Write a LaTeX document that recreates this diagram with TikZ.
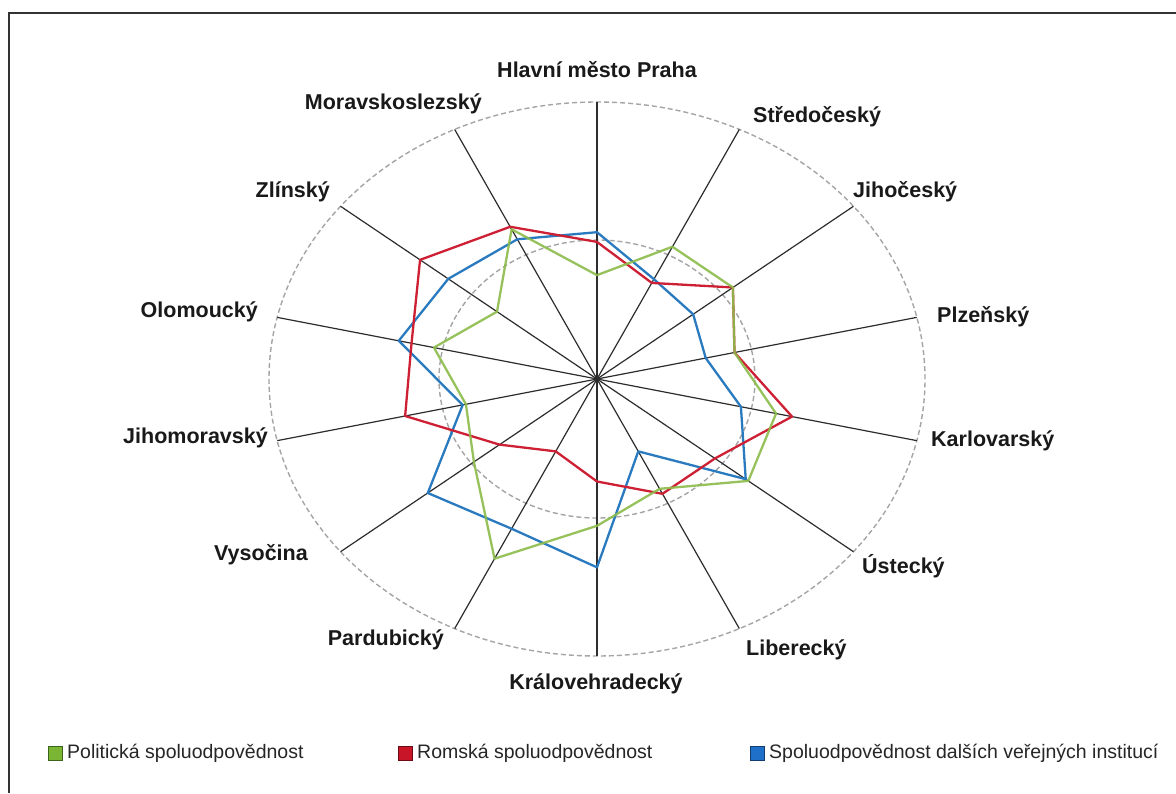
\documentclass[tikz,border=0pt]{standalone}
\usepackage{fontspec}
\setmainfont{Liberation Sans}
\definecolor{sgreen}{RGB}{140,188,74}
\definecolor{sred}{RGB}{206,32,52}
\definecolor{sblue}{RGB}{42,122,192}
\definecolor{kgreen}{RGB}{122,182,52}
\definecolor{kgreenb}{RGB}{60,100,30}
\definecolor{kred}{RGB}{200,22,40}
\definecolor{kredb}{RGB}{110,10,20}
\definecolor{kblue}{RGB}{30,112,200}
\definecolor{kblueb}{RGB}{20,60,110}
\definecolor{axisc}{RGB}{45,45,45}
\definecolor{gridc}{RGB}{165,165,165}
\tikzset{
  frameline/.style={line width=2pt, draw=black!80},
  gridline/.style={draw=gridc, line width=1.4pt, dash pattern=on 5pt off 3pt},
  axisline/.style={draw=axisc, line width=1.2pt},
  gline/.style={draw=sgreen, line width=2.3pt, line join=round, opacity=0.9},
  rline/.style={draw=sred, line width=2.3pt, line join=round},
  bline/.style={draw=sblue, line width=2.3pt, line join=round},
  lab/.style={font=\bfseries\fontsize{21.5}{24}\selectfont, text=black!90, inner sep=0pt},
  keysq/.style={minimum size=14pt, inner sep=0pt, line width=1pt},
  keytext/.style={font=\fontsize{19.5}{22}\selectfont, text=black!85, inner sep=0pt, anchor=west}
}
\begin{document}
\begin{tikzpicture}[x=1pt,y=-1pt]
\useasboundingbox (0,0) rectangle (1176,793);
\fill[white] (0,0) rectangle (1176,793);
\coordinate (f1) at (9,793);
\coordinate (f2) at (9,13);
\coordinate (f3) at (1176,13);
\draw[frameline] (f1) -- (f2) -- (f3);

\coordinate (O) at (597,379);
\draw[gridline] (O) ellipse [x radius=328pt, y radius=277pt];
\draw[gridline] (O) ellipse [x radius=158pt, y radius=139pt];

\foreach \k in {1,...,14}{
  \pgfmathsetmacro\t{90-(\k-1)*360/14}
  \coordinate (a\k) at ({597+328*cos(\t)},{379-277*sin(\t)});
  \draw[axisline] (O) -- (a\k);
}
\fill[axisc] (O) circle [radius=2.5pt];

% Romska (red)
\foreach \r [count=\k] in {0.495,0.385,0.53,0.43,0.61,0.46,0.46,0.37,0.29,0.38,0.60,0.58,0.69,0.61}{
  \pgfmathsetmacro\t{90-(\k-1)*360/14}
  \coordinate (r\k) at ({597+\r*328*cos(\t)},{379-\r*277*sin(\t)});
}
% dalsi instituce (blue)
\foreach \r [count=\k] in {0.53,0.40,0.375,0.34,0.45,0.58,0.29,0.68,0.60,0.66,0.42,0.62,0.58,0.56}{
  \pgfmathsetmacro\t{90-(\k-1)*360/14}
  \coordinate (b\k) at ({597+\r*328*cos(\t)},{379-\r*277*sin(\t)});
}
% politicka (green)
\foreach \r [count=\k] in {0.375,0.53,0.53,0.43,0.56,0.59,0.44,0.53,0.72,0.48,0.41,0.51,0.39,0.60}{
  \pgfmathsetmacro\t{90-(\k-1)*360/14}
  \coordinate (g\k) at ({597+\r*328*cos(\t)},{379-\r*277*sin(\t)});
}
\draw[bline] (b1)--(b2)--(b3)--(b4)--(b5)--(b6)--(b7)--(b8)--(b9)--(b10)--(b11)--(b12)--(b13)--(b14)--cycle;
\draw[rline] (r1)--(r2)--(r3)--(r4)--(r5)--(r6)--(r7)--(r8)--(r9)--(r10)--(r11)--(r12)--(r13)--(r14)--cycle;
\draw[gline] (g1)--(g2)--(g3)--(g4)--(g5)--(g6)--(g7)--(g8)--(g9)--(g10)--(g11)--(g12)--(g13)--(g14)--cycle;

% labels
\node[lab] (l1) at (597,70) {Hlavní město Praha};
\node[lab, anchor=west] (l2) at (753,117) {Středočeský};
\node[lab, anchor=west] (l3) at (853,192) {Jihočeský};
\node[lab, anchor=west] (l4) at (937,317) {Plzeňský};
\node[lab, anchor=west] (l5) at (931,441) {Karlovarský};
\node[lab, anchor=west] (l6) at (862,566) {Ústecký};
\node[lab, anchor=west] (l7) at (746,650) {Liberecký};
\node[lab] (l8) at (596,684) {Královehradecký};
\node[lab, anchor=east] (l9) at (444,640) {Pardubický};
\node[lab, anchor=east] (l10) at (308,555) {Vysočina};
\node[lab, anchor=east] (l11) at (268,438) {Jihomoravský};
\node[lab, anchor=east] (l12) at (258,312) {Olomoucký};
\node[lab, anchor=east] (l13) at (330,192) {Zlínský};
\node[lab, anchor=east] (l14) at (482,104) {Moravskoslezský};

% legend
\node[keysq, fill=kgreen, draw=kgreenb] (k1) at (55,753) {};
\node[keytext] (t1) at (67,753) {Politická spoluodpovědnost};
\node[keysq, fill=kred, draw=kredb] (k2) at (405,753) {};
\node[keytext] (t2) at (417,753) {Romská spoluodpovědnost};
\node[keysq, fill=kblue, draw=kblueb] (k3) at (757,753) {};
\node[keytext] (t3) at (769,753) {Spoluodpovědnost dalších veřejných institucí};
\end{tikzpicture}
\end{document}
